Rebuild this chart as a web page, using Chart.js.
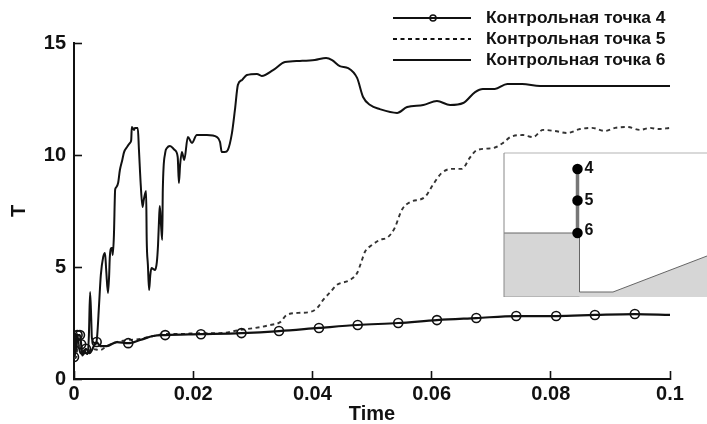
<!DOCTYPE html>
<html>
<head>
<meta charset="utf-8">
<script src="https://cdn.jsdelivr.net/npm/chart.js@4"></script>
<style>
  html, body { margin: 0; padding: 0; background: #fff; }
  #wrap { position: relative; width: 707px; height: 424px; overflow: hidden; }
  #main { position: absolute; left: 0; top: 0; }
  #inset { position: absolute; left: 503px; top: 152px; }
</style>
</head>
<body>
<div id="wrap">
  <canvas id="main" width="707" height="424"></canvas>
  <canvas id="inset" width="204" height="145"></canvas>
</div>
<script>
const seriesNames = ['Контрольная точка 4', 'Контрольная точка 5', 'Контрольная точка 6'];
const xTickValues = [0, 0.02, 0.04, 0.06, 0.08, 0.1];
const yTickValues = [0, 5, 10, 15];

const time4 = [0, .0003, .0006, .0010, .0012, .0014, .0020, .0026, .0038, .0044, .0055, .0072, .0091, .0111, .0133, .0153, .0213, .0281, .0344, .0411, .0476, .0544, .0609, .0675, .0742, .0809, .0874, .0941, .1];
const temp4 = [.98, 1.3, 1.96, 1.96, 1.55, 1.05, 1.35, 1.15, 1.65, 1.47, 1.47, 1.65, 1.6, 1.74, 1.92, 1.96, 2.0, 2.05, 2.14, 2.28, 2.41, 2.5, 2.63, 2.72, 2.81, 2.81, 2.86, 2.9, 2.86];
const markerTimes = [0, .0006, .0010, .0012, .0020, .0038, .0091, .0153, .0213, .0281, .0344, .0411, .0476, .0544, .0609, .0675, .0742, .0809, .0874, .0941];

const time5 = [0, .0003, .0007, .0013, .002, .003, .0044, .0055, .0072, .0091, .0111, .0133, .0153, .0178, .0211, .0245, .0279, .0304, .0329, .0346, .0357, .0376, .0396, .0408, .0418, .043, .0441, .0463, .0475, .0482, .0488, .05, .0513, .0527, .0539, .0545, .0552, .0564, .0589, .0602, .0617, .0634, .0651, .0664, .0676, .0703, .072, .0732, .0753, .077, .0787, .0807, .0827, .0849, .0869, .0891, .0908, .0928, .095, .0966, .098, .1];
const temp5 = [.94, .94, 1.52, 1.21, 1.12, 1.34, 1.29, 1.47, 1.65, 1.74, 1.79, 1.92, 2.01, 2.01, 2.05, 2.05, 2.19, 2.28, 2.41, 2.54, 2.86, 2.95, 2.99, 3.17, 3.53, 3.88, 4.2, 4.42, 4.73, 5.22, 5.67, 5.98, 6.21, 6.34, 6.79, 7.23, 7.63, 7.9, 8.13, 8.66, 9.2, 9.38, 9.38, 9.87, 10.22, 10.31, 10.54, 10.8, 10.89, 10.8, 11.12, 11.07, 10.98, 11.16, 11.21, 11.07, 11.21, 11.25, 11.12, 11.21, 11.16, 11.21];

const time6 = [0, .0002, .0003, .0005, .0007, .0008, .0010, .0013, .0017, .0020, .0023, .0025, .0027, .0029, .0030, .0034, .0037, .0039, .0042, .0045, .0049, .0052, .0054, .0057, .0059, .0060, .0063, .0064, .0065, .0067, .0069, .0070, .0074, .0077, .0081, .0084, .0089, .0094, .0096, .0097, .0101, .0102, .0107, .0109, .0112, .0115, .0117, .0121, .0122, .0124, .0126, .0128, .0130, .0136, .0139, .0141, .0143, .0144, .0146, .0148, .0149, .0153, .0156, .0161, .0169, .0174, .0176, .0178, .0181, .0185, .0191, .0198, .0206, .0223, .0240, .0245, .0248, .0253, .0258, .0265, .0270, .0275, .0282, .0290, .0307, .0315, .0334, .0354, .0379, .0404, .0423, .0433, .0446, .0460, .0475, .0485, .0497, .0513, .0542, .0559, .0586, .0609, .0631, .0653, .0673, .0686, .0706, .0727, .0752, .0782, .0837, .0894, .1];
const temp6 = [.94, 1.21, 1.74, 2.01, 1.74, 1.52, 1.21, 1.12, 1.29, 1.16, 1.12, 1.96, 3.88, 2.63, 1.83, 1.61, 1.56, 1.96, 3.3, 4.64, 5.45, 5.63, 4.87, 3.84, 4.64, 5.4, 5.85, 5.85, 5.54, 6.43, 8.44, 8.53, 8.75, 9.33, 9.78, 10.13, 10.36, 10.54, 10.67, 11.25, 11.12, 11.21, 11.21, 10.22, 8.66, 7.68, 7.99, 8.39, 6.21, 5.09, 3.97, 4.64, 4.96, 4.87, 5.22, 5.98, 7.32, 7.72, 6.88, 6.21, 8.44, 10.09, 10.31, 10.4, 10.22, 9.91, 8.75, 9.55, 10.13, 9.78, 10.8, 10.54, 10.89, 10.89, 10.8, 10.58, 10.13, 10.13, 10.22, 10.98, 12.01, 13.13, 13.35, 13.57, 13.62, 13.53, 13.79, 14.15, 14.2, 14.24, 14.33, 14.24, 13.97, 13.88, 13.44, 12.59, 12.23, 12.05, 11.88, 12.14, 12.23, 12.41, 12.23, 12.32, 12.81, 12.95, 12.95, 13.17, 13.17, 13.08, 13.08, 13.08, 13.08];

// inset sketch of the geometry, x and y in its own units
const groundX = [0, 75.5, 75.5, 109, 203];
const groundY = [64, 64, 5, 5, 41];
const leftEdgeX = [0, 0];
const leftEdgeY = [0, 144];
const topEdgeX = [0, 203];
const topEdgeY = [144, 144];
const bottomX = [0, 75.5];
const bottomY = [0, 0];
const probeX = [73.5, 73.5, 73.5];
const probeY = [128, 96.5, 64];
const probeNames = ['4', '5', '6'];

const ink = '#111';
const boldFont = size => ({ family: '"Liberation Sans"', weight: 'bold', size: size });
const pairs = (xs, ys) => xs.map((x, i) => ({ x: x, y: ys[i] }));

// legend is drawn by hand, it sits above the plot with long samples
const legendLines = {
    id: 'legendLines',
    afterDraw(chart) {
        const c = chart.ctx;
        const rows = [18, 39, 60];
        c.save();
        chart.data.datasets.forEach((ds, i) => {
            c.strokeStyle = ink;
            c.lineWidth = 2;
            c.setLineDash(ds.borderDash || []);
            c.beginPath();
            c.moveTo(393, rows[i]);
            c.lineTo(471, rows[i]);
            c.stroke();
            c.setLineDash([]);
            if (i === 0) {
                c.lineWidth = 1.5;
                c.beginPath();
                c.arc(433, rows[i], 3, 0, Math.PI * 2);
                c.stroke();
            }
            c.fillStyle = ink;
            c.font = 'bold 17.4px "Liberation Sans"';
            c.textBaseline = 'middle';
            c.textAlign = 'left';
            c.fillText(ds.label, 486, rows[i]);
        });
        c.restore();
    }
};

new Chart(document.getElementById('main'), {
    type: 'line',
    plugins: [legendLines],
    data: {
        datasets: [
            {
                label: seriesNames[0],
                data: pairs(time4, temp4),
                borderColor: ink,
                borderWidth: 2.2,
                cubicInterpolationMode: 'monotone',
                pointRadius: ctx => markerTimes.includes(time4[ctx.dataIndex]) ? 4.5 : 0,
                pointBorderColor: ink,
                pointBorderWidth: 1.6,
                pointBackgroundColor: 'transparent',
            },
            {
                label: seriesNames[1],
                data: pairs(time5, temp5),
                borderColor: '#333',
                borderWidth: 1.9,
                borderDash: [4, 3.5],
                cubicInterpolationMode: 'monotone',
                pointRadius: 0,
            },
            {
                label: seriesNames[2],
                data: pairs(time6, temp6),
                borderColor: ink,
                borderWidth: 2,
                cubicInterpolationMode: 'monotone',
                pointRadius: 0,
            },
        ]
    },
    options: {
        responsive: false,
        animation: false,
        layout: { padding: { top: 43, right: 37, left: 0, bottom: 0 } },
        plugins: { legend: { display: false }, tooltip: { enabled: false } },
        scales: {
            x: {
                type: 'linear',
                min: 0,
                max: 0.1,
                afterBuildTicks: axis => { axis.ticks = xTickValues.map(v => ({ value: v })); },
                afterFit: axis => { axis.height = 45; },
                grid: { drawOnChartArea: false, tickLength: -8, tickWidth: 1.6, tickColor: ink },
                border: { color: ink, width: 2 },
                ticks: { color: ink, font: boldFont(20), padding: 11, maxRotation: 0, callback: v => String(v) },
                title: { display: true, text: 'Time', color: ink, font: boldFont(20), padding: { top: 0, bottom: -2 } },
            },
            y: {
                min: 0,
                max: 15,
                afterBuildTicks: axis => { axis.ticks = yTickValues.map(v => ({ value: v })); },
                afterFit: axis => { axis.width = 74; },
                grid: { drawOnChartArea: false, tickLength: -8, tickWidth: 1.6, tickColor: ink },
                border: { color: ink, width: 2 },
                ticks: { color: ink, font: boldFont(20), padding: 16, callback: v => String(v) },
                title: { display: true, text: 'T', color: ink, font: boldFont(20), padding: { top: 7, bottom: 0 } },
            }
        }
    }
});

const probeLabels = {
    id: 'probeLabels',
    afterDatasetsDraw(chart) {
        const c = chart.ctx;
        const { x, y } = chart.scales;
        c.save();
        c.fillStyle = ink;
        c.font = 'bold 16px "Liberation Sans"';
        c.textBaseline = 'middle';
        probeNames.forEach((name, i) => {
            c.fillText(name, x.getPixelForValue(probeX[i]) + 7, y.getPixelForValue(probeY[i]) - (i === 2 ? 2 : 0));
        });
        c.restore();
    }
};

new Chart(document.getElementById('inset'), {
    type: 'scatter',
    plugins: [probeLabels],
    data: {
        datasets: [
            { order: 3, data: pairs(groundX, groundY), showLine: true, fill: 'start', backgroundColor: '#d6d6d6', borderColor: '#666', borderWidth: 1, pointRadius: 0, clip: false },
            { order: 2, data: pairs(leftEdgeX, leftEdgeY), showLine: true, borderColor: '#888', borderWidth: 1, pointRadius: 0, clip: false },
            { order: 2, data: pairs(topEdgeX, topEdgeY), showLine: true, borderColor: '#ccc', borderWidth: 1.5, pointRadius: 0, clip: false },
            { order: 2, data: pairs(bottomX, bottomY), showLine: true, borderColor: '#999', borderWidth: 1, pointRadius: 0, clip: false },
            { order: 1, data: pairs(probeX, probeY), showLine: true, borderColor: '#777', borderWidth: 3.5, pointRadius: 3.5, pointBackgroundColor: '#000', pointBorderColor: '#000', clip: false },
        ]
    },
    options: {
        responsive: false,
        animation: false,
        layout: { padding: 0, autoPadding: false },
        plugins: { legend: { display: false }, tooltip: { enabled: false } },
        scales: {
            x: { type: 'linear', display: false, min: -1, max: 203 },
            y: { type: 'linear', display: false, min: 0, max: 145 },
        }
    }
});
</script>
</body>
</html>
